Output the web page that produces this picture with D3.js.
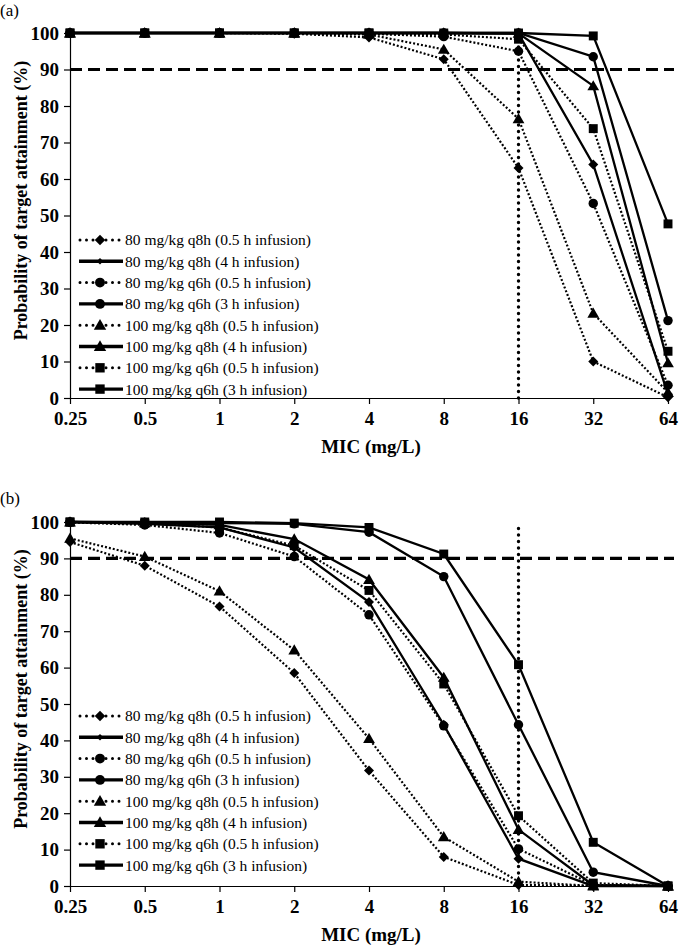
<!DOCTYPE html>
<html>
<head>
<meta charset="utf-8">
<script src="https://cdn.jsdelivr.net/npm/d3@7"></script>
<style>
  html, body { margin: 0; padding: 0; background: #fff; }
  svg { display: block; }
</style>
</head>
<body>
<svg id="chart" width="680" height="945"></svg>
<script>
// ---------- data ----------
const micCategories = ["0.25", "0.5", "1", "2", "4", "8", "16", "32", "64"];
const yTicks = [0, 10, 20, 30, 40, 50, 60, 70, 80, 90, 100];
const seriesNames = [
  "80 mg/kg q8h (0.5 h infusion)",
  "80 mg/kg q8h (4 h infusion)",
  "80 mg/kg q6h (0.5 h infusion)",
  "80 mg/kg q6h (3 h infusion)",
  "100 mg/kg q8h (0.5 h infusion)",
  "100 mg/kg q8h (4 h infusion)",
  "100 mg/kg q6h (0.5 h infusion)",
  "100 mg/kg q6h (3 h infusion)"
];
const seriesDotted = [true, false, true, false, true, false, true, false];
const seriesMarker = ["diamond", "diamond", "circle", "circle", "triangle", "triangle", "square", "square"];
const targetLine = 90;
const breakpointMic = "16";

// Panel (a)
const panelA_80q8h_05 = [100, 100, 100, 99.8, 98.8, 92.8, 63, 10, 0.2];
const panelA_80q8h_4  = [100, 100, 100, 100, 100, 100, 99.8, 64, 1];
const panelA_80q6h_05 = [100, 100, 100, 100, 99.8, 99, 95, 53.3, 3.5];
const panelA_80q6h_3  = [100, 100, 100, 100, 100, 100, 100, 93.5, 21.2];
const panelA_100q8h_05 = [100, 100, 100, 100, 99.6, 95.5, 76.5, 23.2, 1.5];
const panelA_100q8h_4  = [100, 100, 100, 100, 100, 100, 99.9, 85.5, 9.6];
const panelA_100q6h_05 = [100, 100, 100, 100, 100, 99.6, 98.3, 73.8, 12.8];
const panelA_100q6h_3  = [100, 100, 100, 100, 100, 100, 100, 99.2, 47.7];

// Panel (b)
const panelB_80q8h_05 = [94.5, 88, 76.8, 58.5, 31.7, 8, 0.3, 0, 0];
const panelB_80q8h_4  = [100, 99.5, 98.5, 93, 78, 44.3, 7.5, 0, 0];
const panelB_80q6h_05 = [99.9, 99.2, 97, 90.5, 74.5, 44, 10.2, 0.3, 0];
const panelB_80q6h_3  = [100, 99.9, 99.7, 99.5, 97.2, 85, 44.3, 3.8, 0];
const panelB_100q8h_05 = [95.5, 90.5, 81, 64.8, 40.5, 13.5, 1.2, 0, 0];
const panelB_100q8h_4  = [100, 99.8, 99.2, 95.3, 84.2, 57.3, 15.5, 0.2, 0];
const panelB_100q6h_05 = [100, 99.6, 98.5, 93.5, 81.2, 55.5, 19.3, 0.8, 0];
const panelB_100q6h_3  = [100, 100, 100, 99.7, 98.5, 91.2, 60.8, 12, 0];

const panels = [
  { label: "(a)", series: [panelA_80q8h_05, panelA_80q8h_4, panelA_80q6h_05, panelA_80q6h_3, panelA_100q8h_05, panelA_100q8h_4, panelA_100q6h_05, panelA_100q6h_3] },
  { label: "(b)", series: [panelB_80q8h_05, panelB_80q8h_4, panelB_80q6h_05, panelB_80q6h_3, panelB_100q8h_05, panelB_100q8h_4, panelB_100q6h_05, panelB_100q6h_3] }
];

// ---------- layout ----------
const svg = d3.select("#chart");
const serif = "'Liberation Serif', 'Times New Roman', Times, serif";
const left = 70, right = 668;
const panelLayout = [
  { top: 33, bottom: 398, labelY: 16, legendY: 240 },
  { top: 522, bottom: 886, labelY: 504, legendY: 716 }
];

const symbolTypes = {
  diamond: d3.symbolSquare,
  circle: d3.symbolCircle,
  triangle: d3.symbolTriangle,
  square: d3.symbolSquare
};
const symbolSizes = { diamond: 50, circle: 70, triangle: 60, square: 80 };
const symbolRotate = { diamond: 45, circle: 0, triangle: 0, square: 0 };

panels.forEach((panel, pi) => {
  const L = panelLayout[pi];
  const x = d3.scalePoint().domain(micCategories).range([left, right]).padding(0);
  const y = d3.scaleLinear().domain([0, 100]).range([L.bottom, L.top]);
  const g = svg.append("g");

  // panel label
  g.append("text").attr("x", 0).attr("y", L.labelY)
    .attr("font-family", serif).attr("font-size", 17).text(panel.label);

  // axes
  const xAxis = d3.axisBottom(x).tickSize(6).tickSizeOuter(0);
  const gx = g.append("g").attr("transform", `translate(0,${L.bottom})`).call(xAxis);
  gx.select(".domain").attr("stroke", "#000").attr("stroke-width", 1.2).attr("d", `M${left},0.5H${right}`);
  gx.selectAll(".tick line").attr("stroke", "#000").attr("stroke-width", 1.2);
  gx.selectAll(".tick text").attr("font-family", serif).attr("font-weight", "bold")
    .attr("font-size", 19).attr("fill", "#000").attr("dy", "0.95em");

  const yAxis = d3.axisLeft(y).tickValues(yTicks).tickSize(6).tickSizeOuter(0);
  const gy = g.append("g").attr("transform", `translate(${left},0)`).call(yAxis);
  gy.select(".domain").attr("stroke", "#000").attr("stroke-width", 1.2);
  gy.selectAll(".tick line").attr("stroke", "#000").attr("stroke-width", 1.2);
  gy.selectAll(".tick text").attr("font-family", serif).attr("font-weight", "bold")
    .attr("font-size", 19).attr("fill", "#000").attr("x", -11);

  // axis titles
  g.append("text")
    .attr("transform", `translate(27,${(L.top + L.bottom) / 2 - 15}) rotate(-90)`)
    .attr("text-anchor", "middle").attr("font-family", serif).attr("font-weight", "bold")
    .attr("font-size", 18).text("Probability of target attainment (%)");
  g.append("text").attr("x", (left + right) / 2 + 2).attr("y", L.bottom + 55)
    .attr("text-anchor", "middle").attr("font-family", serif).attr("font-weight", "bold")
    .attr("font-size", 19).text("MIC (mg/L)");

  // reference lines
  g.append("line").attr("x1", left).attr("x2", right + 6)
    .attr("y1", y(targetLine)).attr("y2", y(targetLine))
    .attr("stroke", "#000").attr("stroke-width", 3.2).attr("stroke-dasharray", "12,6");
  g.append("line").attr("x1", x(breakpointMic)).attr("x2", x(breakpointMic))
    .attr("y1", y(0)).attr("y2", y(100))
    .attr("stroke", "#000").attr("stroke-width", 3.4).attr("stroke-linecap", "round")
    .attr("stroke-dasharray", "0,6.5");

  // series
  const line = d3.line().x((d, i) => x(micCategories[i])).y(d => y(d));
  panel.series.forEach((vals, si) => {
    const dotted = seriesDotted[si];
    g.append("path").datum(vals).attr("d", line)
      .attr("fill", "none").attr("stroke", "#000")
      .attr("stroke-width", dotted ? 2.2 : 2.3)
      .attr("stroke-dasharray", dotted ? "2,2" : null);
    const m = seriesMarker[si];
    const sym = d3.symbol().type(symbolTypes[m]).size(symbolSizes[m]);
    g.selectAll(null).data(vals).enter().append("path")
      .attr("d", sym)
      .attr("transform", (d, i) => `translate(${x(micCategories[i])},${y(d) + (m === "triangle" ? 1 : 0)}) rotate(${symbolRotate[m]})`)
      .attr("fill", "#000");
  });

  // legend
  const lg = g.append("g");
  seriesNames.forEach((name, si) => {
    const ly = L.legendY + si * 21.3;
    const dotted = seriesDotted[si];
    lg.append("line").attr("x1", dotted ? 80 : 79).attr("x2", dotted ? 121 : 123)
      .attr("y1", ly).attr("y2", ly)
      .attr("stroke", "#000").attr("stroke-width", dotted ? 3 : 3.4)
      .attr("stroke-linecap", dotted ? "round" : "butt")
      .attr("stroke-dasharray", dotted ? "0,6.5" : null);
    const m = seriesMarker[si];
    const sz = si === 1 ? 22 : symbolSizes[m] * 1.1;
    lg.append("path").attr("d", d3.symbol().type(symbolTypes[m]).size(sz))
      .attr("transform", `translate(100,${ly + (m === "triangle" ? 1 : 0)}) rotate(${symbolRotate[m]})`).attr("fill", "#000");
    lg.append("text").attr("x", 125).attr("y", ly).attr("dy", "0.35em")
      .attr("font-family", serif).attr("font-size", 15.5).attr("fill", "#000").text(name);
  });
});
</script>
</body>
</html>
